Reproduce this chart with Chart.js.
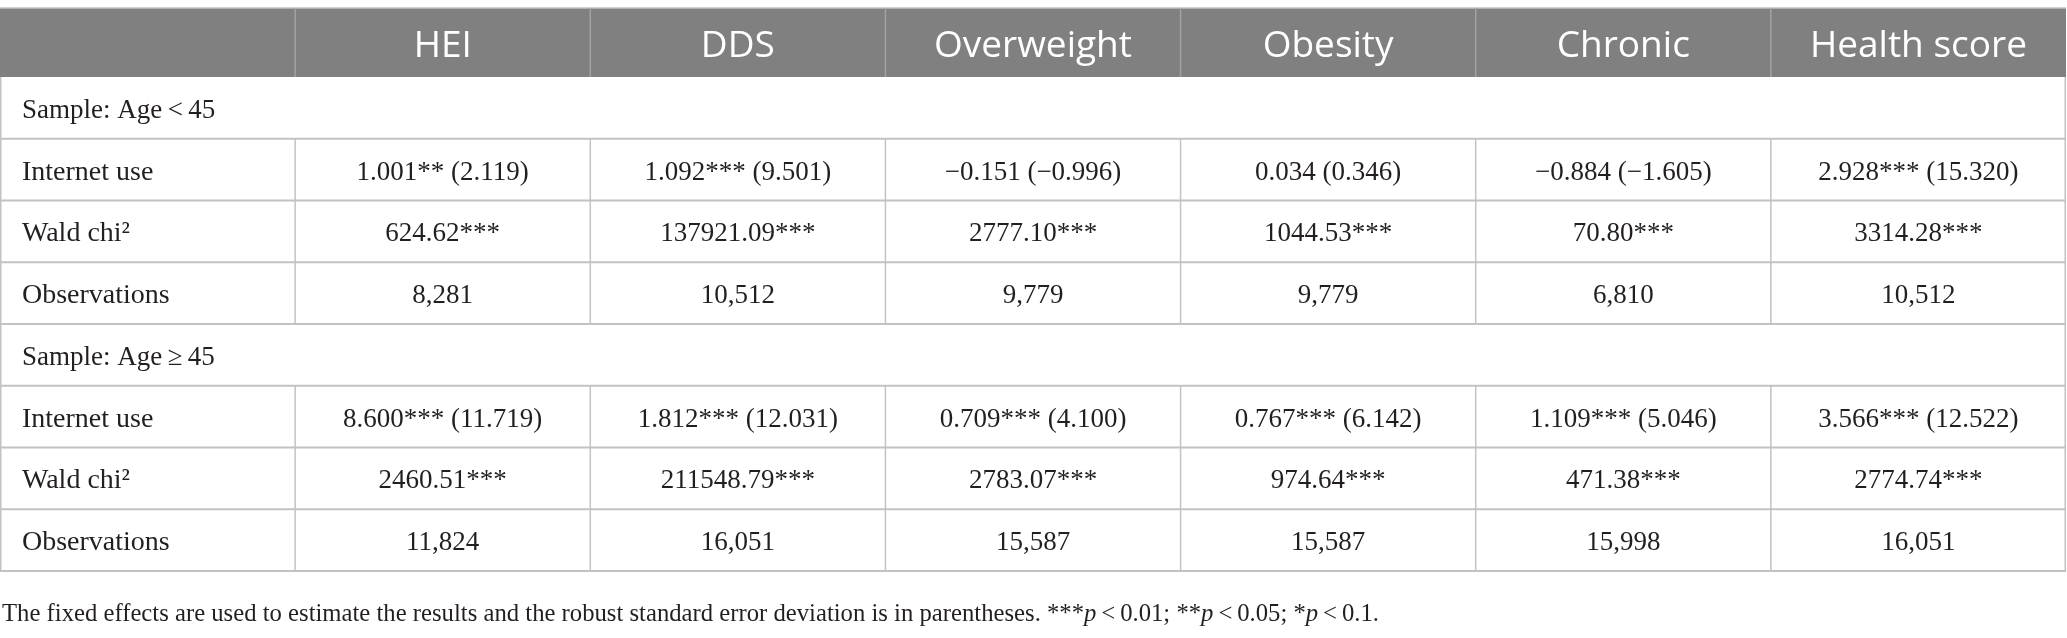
<!DOCTYPE html>
<html>
<head>
<meta charset="utf-8">
<script src="https://cdn.jsdelivr.net/npm/chart.js@4.4.1/dist/chart.umd.min.js"></script>
<style>
html,body{margin:0;padding:0;background:#ffffff;overflow:hidden;}
#wrap{width:2067px;height:638px;position:relative;}
</style>
</head>
<body>
<div id="wrap"><canvas id="c" width="2067" height="638"></canvas></div>
<script>
// ---- table content ----
const headerLabels = ['', 'HEI', 'DDS', 'Overweight', 'Obesity', 'Chronic', 'Health score'];
const sectionTitles = ['Sample: Age\u2009<\u200945', 'Sample: Age\u2009\u2265\u200945'];
const rowNames = ['Internet use', 'Wald chi\u00B2', 'Observations'];

const youngInternet = ['1.001** (2.119)', '1.092*** (9.501)', '\u22120.151 (\u22120.996)', '0.034 (0.346)', '\u22120.884 (\u22121.605)', '2.928*** (15.320)'];
const youngWald = ['624.62***', '137921.09***', '2777.10***', '1044.53***', '70.80***', '3314.28***'];
const youngObs = ['8,281', '10,512', '9,779', '9,779', '6,810', '10,512'];

const oldInternet = ['8.600*** (11.719)', '1.812*** (12.031)', '0.709*** (4.100)', '0.767*** (6.142)', '1.109*** (5.046)', '3.566*** (12.522)'];
const oldWald = ['2460.51***', '211548.79***', '2783.07***', '974.64***', '471.38***', '2774.74***'];
const oldObs = ['11,824', '16,051', '15,587', '15,587', '15,998', '16,051'];

const footnoteParts = [
  ['The fixed effects are used to estimate the results and the robust standard error deviation is in parentheses. ***', false],
  ['p', true],
  ['\u2009<\u20090.01; **', false],
  ['p', true],
  ['\u2009<\u20090.05; *', false],
  ['p', true],
  ['\u2009<\u20090.1.', false]
];

// rows built from the arrays above
const tableRows = [
  {section: sectionTitles[0]},
  {name: rowNames[0], cells: youngInternet},
  {name: rowNames[1], cells: youngWald},
  {name: rowNames[2], cells: youngObs},
  {section: sectionTitles[1]},
  {name: rowNames[0], cells: oldInternet},
  {name: rowNames[1], cells: oldWald},
  {name: rowNames[2], cells: oldObs}
];
const rowKeys = tableRows.map((r, i) => 'r' + i);

// ---- styles ----
const HEADER_H = 69;
const HEADER_BG = '#808080';
const HEADER_SEP = '#a3a3a3';
const GRID = '#c2c2c2';
const SERIF = '"Liberation Serif", "Times New Roman", serif';
const SANS = '"Open Sans", "Noto Sans", sans-serif';

const tablePlugin = {
  id: 'tablePlugin',
  afterDraw(chart) {
    const ctx = chart.ctx;
    const xs = chart.scales.x, ys = chart.scales.y;
    const ca = chart.chartArea;
    const colW = xs.getPixelForValue(1) - xs.getPixelForValue(0);
    const rowH = Math.abs(ys.getPixelForValue(1) - ys.getPixelForValue(0));
    const left = ca.left, right = ca.right;
    const hTop = ca.top - HEADER_H, hBot = ca.top;

    ctx.save();
    // header background
    ctx.fillStyle = HEADER_BG;
    ctx.fillRect(left, hTop, right - left, HEADER_H);
    // header top border
    ctx.strokeStyle = GRID; ctx.lineWidth = 1.5;
    ctx.beginPath(); ctx.moveTo(left, hTop); ctx.lineTo(right, hTop); ctx.stroke();
    // header separators
    ctx.strokeStyle = HEADER_SEP; ctx.lineWidth = 1.5;
    for (let i = 1; i < headerLabels.length; i++) {
      const bx = xs.getPixelForValue(i) - colW / 2;
      ctx.beginPath(); ctx.moveTo(bx, hTop); ctx.lineTo(bx, hBot); ctx.stroke();
    }
    // header text
    ctx.fillStyle = '#ffffff';
    ctx.font = '37px ' + SANS;
    ctx.textAlign = 'center';
    ctx.textBaseline = 'alphabetic';
    headerLabels.forEach((lab, i) => {
      if (lab) ctx.fillText(lab, xs.getPixelForValue(i), hTop + 49);
    });

    // body
    tableRows.forEach((row, r) => {
      const yc = ys.getPixelForValue(r);
      const yTop = yc - rowH / 2, yBot = yc + rowH / 2;
      ctx.strokeStyle = GRID; ctx.lineWidth = 2;
      ctx.beginPath(); ctx.moveTo(left, yBot); ctx.lineTo(right, yBot); ctx.stroke();
      ctx.lineWidth = 1.5;
      // outer borders
      ctx.beginPath();
      ctx.moveTo(left + 0.75, yTop); ctx.lineTo(left + 0.75, yBot);
      ctx.moveTo(right - 0.75, yTop); ctx.lineTo(right - 0.75, yBot);
      ctx.stroke();
      ctx.fillStyle = '#231f20';
      ctx.font = '27px ' + SERIF;
      ctx.textBaseline = 'alphabetic';
      if (row.section) {
        ctx.textAlign = 'left';
        ctx.fillText(row.section, left + 22, yc + 10);
      } else {
        for (let i = 1; i < headerLabels.length; i++) {
          const bx = xs.getPixelForValue(i) - colW / 2;
          ctx.beginPath(); ctx.moveTo(bx, yTop); ctx.lineTo(bx, yBot); ctx.stroke();
        }
        ctx.textAlign = 'left';
        ctx.font = '28px ' + SERIF;
        ctx.fillText(row.name, left + 22, yc + 10);
        ctx.font = '27px ' + SERIF;
        ctx.textAlign = 'center';
        row.cells.forEach((v, j) => {
          ctx.fillText(v, xs.getPixelForValue(j + 1), yc + 10);
        });
      }
    });

    // footnote
    let fx = left + 2;
    const fy = ca.bottom + 50;
    ctx.textAlign = 'left';
    ctx.fillStyle = '#231f20';
    footnoteParts.forEach(([t, it]) => {
      ctx.font = (it ? 'italic ' : '') + '24.7px ' + SERIF;
      ctx.fillText(t, fx, fy);
      fx += ctx.measureText(t).width;
    });
    ctx.restore();
  }
};

new Chart(document.getElementById('c'), {
  type: 'bar',
  data: { labels: headerLabels, datasets: [] },
  options: {
    responsive: false,
    animation: false,
    devicePixelRatio: 1,
    layout: { padding: { top: 8 + HEADER_H, bottom: 67, left: 0, right: 1 } },
    plugins: { legend: { display: false }, tooltip: { enabled: false }, title: { display: false } },
    scales: {
      x: { type: 'category', labels: headerLabels, offset: true, display: false },
      y: { type: 'category', labels: rowKeys, offset: true, display: false }
    }
  },
  plugins: [tablePlugin]
});
</script>
</body>
</html>
